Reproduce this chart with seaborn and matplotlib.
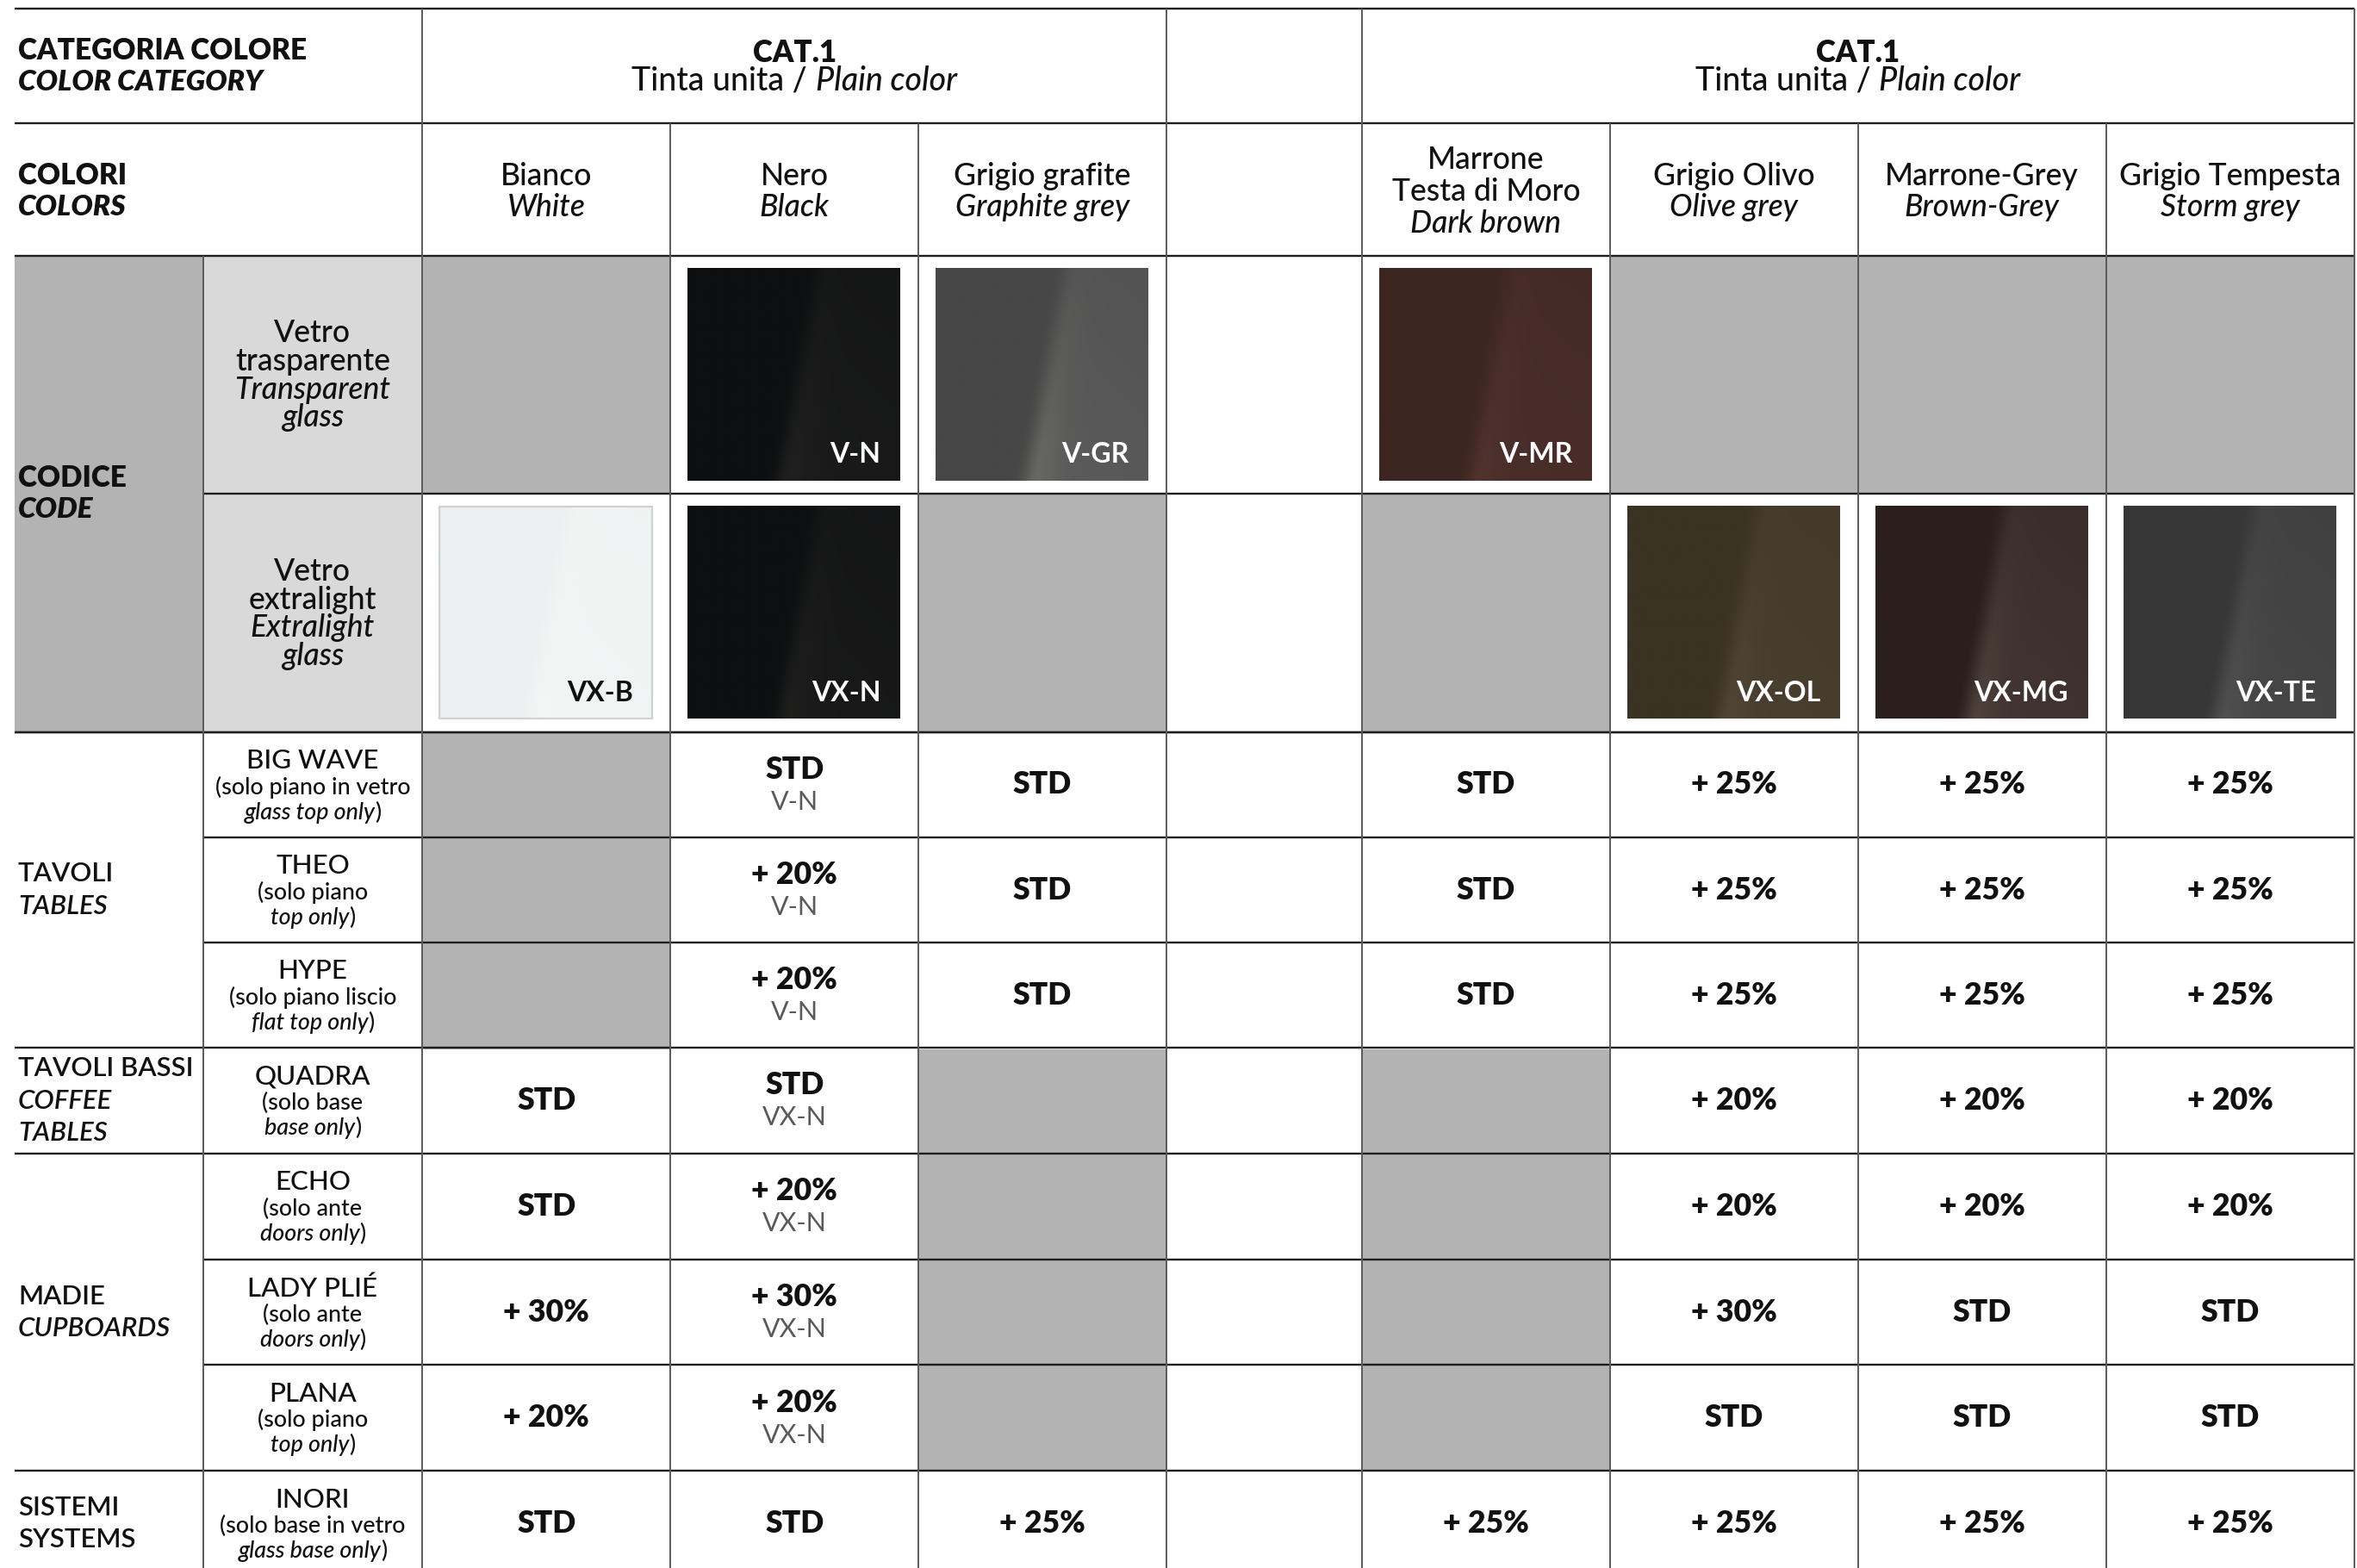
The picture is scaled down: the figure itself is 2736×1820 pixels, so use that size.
import numpy as np
import pandas as pd
import matplotlib
matplotlib.use("Agg")
import matplotlib.pyplot as plt
from matplotlib.colors import ListedColormap
from matplotlib.patches import Rectangle
import seaborn as sns

# ---------------- data ----------------
category_label = ["CATEGORIA COLORE", "COLOR CATEGORY"]
colors_label = ["COLORI", "COLORS"]
code_label = ["CODICE", "CODE"]
cat_title = "CAT.1"
cat_sub_it = "Tinta unita / "
cat_sub_en = "Plain color"

color_names_it = ["Bianco", "Nero", "Grigio grafite", "Marrone\nTesta di Moro",
                  "Grigio Olivo", "Marrone-Grey", "Grigio Tempesta"]
color_names_en = ["White", "Black", "Graphite grey", "Dark brown",
                  "Olive grey", "Brown-Grey", "Storm grey"]

glass_it = [["Vetro", "trasparente"], ["Vetro", "extralight"]]
glass_en = [["Transparent", "glass"], ["Extralight", "glass"]]
codes_transparent = ["", "V-N", "V-GR", "V-MR", "", "", ""]
codes_extralight = ["VX-B", "VX-N", "", "", "VX-OL", "VX-MG", "VX-TE"]

# swatch colours (base, sheen, glow) per code
swatch_base = {"V-N": "#0d0f10", "V-GR": "#474747", "V-MR": "#3d2622",
               "VX-B": "#edf0f0", "VX-N": "#0d0f10", "VX-OL": "#3a3222",
               "VX-MG": "#2a1f1c", "VX-TE": "#363636"}
swatch_sheen = {"V-N": "#1b1b1b", "V-GR": "#5c5c5c", "V-MR": "#4a2e29",
                "VX-B": "#f3f5f5", "VX-N": "#1a1a1a", "VX-OL": "#4a4030",
                "VX-MG": "#443733", "VX-TE": "#484848"}
swatch_glow = {"V-N": "#232322", "V-GR": "#707068", "V-MR": "#553731",
               "VX-B": "#f6f7f7", "VX-N": "#222220", "VX-OL": "#55493a",
               "VX-MG": "#584842", "VX-TE": "#555555"}

products = ["BIG WAVE", "THEO", "HYPE", "QUADRA", "ECHO", "LADY PLIÉ", "PLANA", "INORI"]
product_note_it = ["(solo piano in vetro", "(solo piano", "(solo piano liscio", "(solo base",
                   "(solo ante", "(solo ante", "(solo piano", "(solo base in vetro"]
product_note_en = ["glass top only", "top only", "flat top only", "base only",
                   "doors only", "doors only", "top only", "glass base only"]

group_it = ["TAVOLI", "TAVOLI BASSI", "MADIE", "SISTEMI"]
group_en = ["TABLES", "COFFEE\nTABLES", "CUPBOARDS", "SYSTEMS"]
group_en_italic = [True, True, True, False]
group_rows = [3, 1, 3, 1]

prices = [
    [None, "STD", "STD", "STD", "+ 25%", "+ 25%", "+ 25%"],
    [None, "+ 20%", "STD", "STD", "+ 25%", "+ 25%", "+ 25%"],
    [None, "+ 20%", "STD", "STD", "+ 25%", "+ 25%", "+ 25%"],
    ["STD", "STD", None, None, "+ 20%", "+ 20%", "+ 20%"],
    ["STD", "+ 20%", None, None, "+ 20%", "+ 20%", "+ 20%"],
    ["+ 30%", "+ 30%", None, None, "+ 30%", "STD", "STD"],
    ["+ 20%", "+ 20%", None, None, "STD", "STD", "STD"],
    ["STD", "STD", "+ 25%", "+ 25%", "+ 25%", "+ 25%", "+ 25%"],
]
nero_glass_code = ["V-N", "V-N", "V-N", "VX-N", "VX-N", "VX-N", "VX-N", ""]
NERO = 1
LEFT_N = 3

# ---------------- layout ----------------
W, H = 1568, 1043
col_x = [10, 135, 281, 446, 611, 776, 906, 1071, 1236, 1401, 1566]
row_y = [6, 82, 170, 328.5, 487, 557, 627, 697, 767.5, 838, 908, 978.5, 1049]
color_col = [2, 3, 4, 6, 7, 8, 9]

GRAY = "#b3b3b3"
LIGHT = "#d9d9d9"
INK = "#111111"
FONT = "Lato"
BOLD = "heavy"
REG = "medium"

sns.set_theme(style="white")
plt.rcParams["font.family"] = [FONT, "DejaVu Sans"]

fig = plt.figure(figsize=(13.68, 9.10), dpi=200, facecolor="white")
FIG_PX = 13.68 * 200


def place_axes(x0, x1, y0, y1):
    return fig.add_axes([x0 / W, 1 - y1 / H, (x1 - x0) / W, (y1 - y0) / H])


# ---------- availability grids drawn with seaborn heatmaps ----------
cmap = ListedColormap(["white", GRAY])
code_mask = np.array([[c == "" for c in codes_transparent],
                      [c == "" for c in codes_extralight]]).astype(int)
price_mask = np.array([[v is None for v in r] for r in prices]).astype(int)

blocks = [
    (code_mask[:, :LEFT_N], col_x[2], col_x[5], row_y[2], row_y[4]),
    (code_mask[:, LEFT_N:], col_x[6], col_x[10], row_y[2], row_y[4]),
    (price_mask[:, :LEFT_N], col_x[2], col_x[5], row_y[4], row_y[12]),
    (price_mask[:, LEFT_N:], col_x[6], col_x[10], row_y[4], row_y[12]),
]
for mask, x0, x1, y0, y1 in blocks:
    axh = place_axes(x0, x1, y0, y1)
    sns.heatmap(pd.DataFrame(mask), ax=axh, cmap=cmap, vmin=0, vmax=1, cbar=False,
                xticklabels=False, yticklabels=False, linewidths=0)
    axh.axis("off")

# ---------- overlay axes ----------
ax = fig.add_axes([0, 0, 1, 1])
ax.set_facecolor("none")
ax.set_xlim(0, W)
ax.set_ylim(H, 0)
ax.axis("off")
renderer = fig.canvas.get_renderer()

# fixed fills
ax.add_patch(Rectangle((col_x[0], row_y[2]), col_x[1] - col_x[0], row_y[4] - row_y[2],
                       facecolor=GRAY, edgecolor="none", zorder=1))
ax.add_patch(Rectangle((col_x[1], row_y[2]), col_x[2] - col_x[1], row_y[4] - row_y[2],
                       facecolor=LIGHT, edgecolor="none", zorder=1))


def tw(s, **kw):
    t = ax.text(0, 0, s, **kw)
    w = t.get_window_extent(renderer).width
    t.remove()
    return w * W / FIG_PX


def rich(x, y, pieces, ha="center", size=11):
    """pieces: list of (text, style, weight, color)"""
    widths, items = [], []
    for s, style, weight, color in pieces:
        kw = dict(fontsize=size, fontstyle=style, fontweight=weight, family=[FONT, "DejaVu Sans"])
        sp = tw("a a", **kw) - tw("aa", **kw)
        lead = len(s) - len(s.lstrip(" "))
        trail = len(s) - len(s.rstrip(" "))
        core = s.strip(" ")
        w = tw(core, **kw) if core else 0
        items.append((core, kw, color, lead * sp))
        widths.append(lead * sp + w + trail * sp)
    total = sum(widths)
    cx = x - total / 2 if ha == "center" else x
    for (core, kw, color, lead), w in zip(items, widths):
        if core:
            ax.text(cx + lead, y, core, ha="left", va="center", color=color, zorder=6, **kw)
        cx += w


def txt(x, y, s, size=11, ha="center", style="normal", weight=REG, color=INK, z=6):
    ax.text(x, y, s, ha=ha, va="center", fontsize=size, fontstyle=style,
            fontweight=weight, color=color, zorder=z, linespacing=1.05)


# ---------- header ----------
txt(12, 34, category_label[0], size=12, ha="left", weight=BOLD)
txt(12, 55, category_label[1], size=12, ha="left", weight=BOLD, style="italic")
for xa, xb in [(col_x[2], col_x[5]), (col_x[6], col_x[10])]:
    cx = (xa + xb) / 2
    txt(cx, 35, cat_title, size=12.5, weight=BOLD)
    rich(cx, 54, [(cat_sub_it, "normal", REG, INK), (cat_sub_en, "italic", REG, INK)], size=13.5)

txt(12, 117, colors_label[0], size=12, ha="left", weight=BOLD)
txt(12, 138, colors_label[1], size=12, ha="left", weight=BOLD, style="italic")
for i, c in enumerate(color_col):
    cx = (col_x[c] + col_x[c + 1]) / 2
    lines_it = color_names_it[i].split("\n")
    n = len(lines_it) + 1
    y0 = 127.5 - (n - 1) * 21 / 2
    for k, l in enumerate(lines_it):
        txt(cx, y0 + k * 21, l, size=12.8)
    txt(cx, y0 + (n - 1) * 21, color_names_en[i], size=12.8, style="italic")

# ---------- code rows ----------
txt(12, 318, code_label[0], size=12, ha="left", weight=BOLD)
txt(12, 339, code_label[1], size=12, ha="left", weight=BOLD, style="italic")


def hex2rgb(h):
    h = h.lstrip("#")
    return np.array([int(h[i:i + 2], 16) for i in (0, 2, 4)]) / 255.0


def swatch(x0, y0, x1, y1, code):
    base = hex2rgb(swatch_base[code])
    sheen = hex2rgb(swatch_sheen[code])
    glowc = hex2rgb(swatch_glow[code])
    yy, xx = np.mgrid[0:1:240j, 0:1:170j]
    edge = 0.61 - 0.19 * yy
    d = xx - edge
    s = np.clip(d / 0.12 + 0.5, 0, 1)
    s = s * s * (3 - 2 * s)
    t = s * (0.65 + 0.35 * yy) * (1 - 0.3 * np.clip(d, 0, 1))
    g = np.exp(-((d - 0.05) / 0.09) ** 2) * (0.1 + 0.9 * yy ** 1.5) * 0.6
    img = base[None, None, :] + (sheen - base)[None, None, :] * t[..., None]
    img = img + (glowc - sheen)[None, None, :] * (g * s)[..., None]
    ax.imshow(np.clip(img, 0, 1), extent=(x0, x1, y1, y0), aspect="auto",
              interpolation="bilinear", zorder=3)
    if code == "VX-B":
        ax.add_patch(Rectangle((x0, y0), x1 - x0, y1 - y0, facecolor="none",
                               edgecolor="#cfd2d2", lw=0.8, zorder=4))
    lab_col = INK if code == "VX-B" else "white"
    ax.text(x1 - 13, y1 - 17, code, ha="right", va="center", fontsize=11.5,
            fontweight="bold", color=lab_col, zorder=5)


for r, codes in enumerate([codes_transparent, codes_extralight]):
    ya, yb = row_y[2 + r], row_y[3 + r]
    cy = (ya + yb) / 2
    lines = [(s, "normal") for s in glass_it[r]] + [(s, "italic") for s in glass_en[r]]
    for k, (s, st) in enumerate(lines):
        txt(208, cy - 27.5 + k * 18.7, s, size=12.8, style=st)
    for i, c in enumerate(color_col):
        code = codes[i]
        if code:
            xa, xb = col_x[c], col_x[c + 1]
            swatch(xa + 11.5, ya + 8.5, xb - 12, yb - 9, code)

# ---------- data rows ----------
for r in range(len(products)):
    ya, yb = row_y[4 + r], row_y[5 + r]
    cy = ya + 35
    txt(208, ya + 19, products[r], size=11.3)
    txt(208, ya + 36.5, product_note_it[r], size=9.7)
    rich(208, ya + 53.5, [(product_note_en[r], "italic", REG, INK), (")", "normal", REG, INK)], size=9.7)
    for i, c in enumerate(color_col):
        v = prices[r][i]
        if v is None:
            continue
        cx = (col_x[c] + col_x[c + 1]) / 2
        if i == NERO and nero_glass_code[r]:
            txt(cx, cy - 10, v, size=12.8, weight=BOLD)
            txt(cx, cy + 11.5, nero_glass_code[r], size=11, weight="normal", color="#5a5a5a")
        else:
            txt(cx, cy, v, size=12.8, weight=BOLD)

# group labels
start = 0
for g in range(len(group_it)):
    ya = row_y[4 + start]
    yb = row_y[4 + start + group_rows[g]]
    lines = [(group_it[g], "normal")] + [(s, "italic" if group_en_italic[g] else "normal")
                                          for s in group_en[g].split("\n")]
    cy = (ya + yb) / 2 if g < 3 else ya + 35
    n = len(lines)
    for k, (s, st) in enumerate(lines):
        txt(12, cy + (k - (n - 1) / 2) * 21.5, s, size=11.2, ha="left", style=st, weight="semibold")
    start += group_rows[g]

# ---------- grid lines ----------
hl = [(row_y[0], col_x[0]), (row_y[1], col_x[0]), (row_y[2], col_x[0]), (row_y[3], col_x[1]),
      (row_y[4], col_x[0])]
start = 0
for g in range(len(group_rows)):
    for k in range(group_rows[g]):
        y = row_y[4 + start + k]
        hl.append((y, col_x[0] if k == 0 else col_x[1]))
    start += group_rows[g]
for y, xa in hl:
    ax.hlines(y, xa, col_x[-1], color="#1e1e1e", lw=0.85, zorder=7)

vl = [(col_x[1], row_y[2]), (col_x[2], row_y[0]), (col_x[3], row_y[1]), (col_x[4], row_y[1]),
      (col_x[5], row_y[0]), (col_x[6], row_y[0]), (col_x[7], row_y[1]), (col_x[8], row_y[1]),
      (col_x[9], row_y[1]), (col_x[10], row_y[0])]
for x, ya in vl:
    ax.vlines(x, ya, row_y[-1], color="#5a5a5a", lw=0.7, zorder=7)

fig.savefig("out.png", dpi=200, facecolor="white")
